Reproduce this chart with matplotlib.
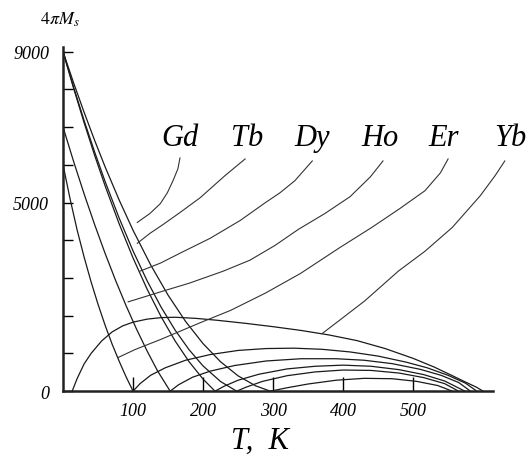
import matplotlib
matplotlib.use("Agg")
import matplotlib.pyplot as plt

# temperature T (K) and 4*pi*Ms (G)
# falling branches (below the compensation point)
er_dec_t = [0, 10, 20, 30, 40, 50, 60, 70, 80, 90, 100]
er_dec_m = [6000, 5100, 4280, 3560, 2900, 2300, 1750, 1250, 800, 380, 0]
ho_dec_t = [0, 15, 30, 45, 60, 75, 90, 105, 120, 135, 153]
ho_dec_m = [7000, 6094, 5234, 4422, 3656, 2938, 2267, 1643, 1066, 536, 0]
dy_dec_t = [0, 15, 30, 45, 60, 80, 100, 120, 140, 160, 180, 200, 217]
dy_dec_m = [9000, 8035, 7122, 6259, 5447, 4443, 3530, 2707, 1975, 1333, 781, 320, 0]
tb_dec_t = [0, 15, 30, 45, 60, 80, 100, 120, 140, 160, 180, 200, 225, 248]
tb_dec_m = [9000, 8065, 7180, 6346, 5562, 4595, 3717, 2928, 2229, 1620, 1099, 668, 255, 0]
gd_dec_t = [0, 15, 30, 45, 60, 80, 100, 125, 150, 175, 200, 225, 250, 275, 296]
gd_dec_m = [9000, 8179, 7398, 6655, 5951, 5074, 4265, 3352, 2546, 1849, 1260, 779, 406, 142, 0]

# rising branches (above the compensation point)
yb_t = [13, 20, 30, 40, 55, 70, 85, 100, 120, 140, 160, 190, 220, 260, 300, 340,
        380, 420, 460, 500, 530, 555, 575, 590, 600]
yb_m = [0, 330, 720, 1000, 1330, 1570, 1730, 1830, 1910, 1950, 1960, 1930, 1880,
        1800, 1710, 1610, 1490, 1340, 1130, 870, 640, 420, 240, 110, 0]
er_t = [100, 110, 125, 146, 175, 210, 250, 290, 330, 370, 410, 450, 490, 520, 550, 575, 591]
er_m = [0, 200, 420, 620, 820, 970, 1080, 1130, 1140, 1110, 1040, 930, 770, 620, 420, 210, 0]
ho_t = [153, 165, 185, 210, 245, 290, 340, 390, 430, 470, 510, 540, 565, 582]
ho_m = [0, 170, 370, 530, 680, 800, 860, 860, 820, 730, 580, 420, 230, 0]
dy_t = [217, 230, 250, 280, 320, 360, 400, 440, 480, 515, 545, 574]
dy_m = [0, 130, 290, 450, 590, 660, 690, 660, 570, 440, 270, 0]
tb_t = [248, 262, 285, 320, 360, 400, 440, 480, 515, 545, 565]
tb_m = [0, 110, 260, 410, 510, 560, 550, 480, 360, 200, 0]
gd_t = [296, 320, 350, 390, 430, 470, 505, 535, 556]
gd_m = [0, 90, 190, 290, 340, 330, 260, 150, 0]

# labels and their leader lines
labels = ["Gd", "Tb", "Dy", "Ho", "Er", "Yb"]
label_t = [167, 263, 356, 453, 544, 639]
lead_t = [[167, 164, 157, 149, 139, 124, 106],
          [260, 231, 196, 167, 143, 124, 106],
          [356, 331, 310, 289, 253, 210, 167, 139, 110],
          [457, 439, 410, 374, 336, 303, 267, 229, 181, 139, 93],
          [550, 539, 517, 481, 441, 396, 339, 289, 239, 196, 139, 103, 79],
          [631, 617, 596, 556, 517, 479, 431, 396, 370]]
lead_m = [[6184, 5895, 5579, 5263, 4974, 4711, 4474],
          [6158, 5711, 5132, 4737, 4421, 4184, 3921],
          [6105, 5579, 5263, 5000, 4526, 4053, 3658, 3395, 3184],
          [6105, 5684, 5158, 4711, 4289, 3868, 3474, 3184, 2868, 2632, 2368],
          [6158, 5789, 5316, 4842, 4342, 3816, 3120, 2600, 2140, 1816, 1368, 1105, 895],
          [6105, 5711, 5184, 4342, 3711, 3184, 2395, 1895, 1526]]

plt.rcParams["mathtext.fontset"] = "stix"
serif = "Liberation Serif"

fig = plt.figure(figsize=(5.3, 4.56), dpi=100)
ax = fig.add_axes([0.119, 0.14, 0.811, 0.755])

for t, m in [(er_dec_t, er_dec_m), (ho_dec_t, ho_dec_m), (dy_dec_t, dy_dec_m),
             (tb_dec_t, tb_dec_m), (gd_dec_t, gd_dec_m), (yb_t, yb_m), (er_t, er_m),
             (ho_t, ho_m), (dy_t, dy_m), (tb_t, tb_m), (gd_t, gd_m)]:
    ax.plot(t, m, color="#1a1a1a", lw=0.9)

for t, m in zip(lead_t, lead_m):
    ax.plot(t, m, color="#333333", lw=0.8, clip_on=False)

for name, t in zip(labels, label_t):
    ax.text(t, 6530, name, ha="center", va="baseline", fontsize=22,
            family=serif, style="italic", clip_on=False)

ax.set_xlim(0, 614)
ax.set_ylim(0, 9130)
for s in ["top", "right"]:
    ax.spines[s].set_visible(False)
for s in ["left", "bottom"]:
    ax.spines[s].set_linewidth(1.8)
    ax.spines[s].set_color("#222222")

ax.set_xticks([100, 200, 300, 400, 500])
ax.set_xticklabels(["100", "200", "300", "400", "500"])
ax.set_yticks(range(0, 10000, 1000))
ax.set_yticklabels(["0", "", "", "", "", "5000", "", "", "", "9000"])
ax.tick_params(axis="x", direction="in", length=10, width=1, pad=8)
ax.tick_params(axis="y", direction="in", length=7, width=1, pad=10)
for lab in ax.get_xticklabels() + ax.get_yticklabels():
    lab.set_family(serif)
    lab.set_style("italic")
    lab.set_fontsize(13)

fig.text(0.075, 0.947, r"$4\pi M_s$", fontsize=13, ha="left", va="baseline")
fig.text(0.49, 0.015, "T,  K", fontsize=22, family=serif, style="italic",
         ha="center", va="baseline")

fig.savefig("out.png", dpi=100)
